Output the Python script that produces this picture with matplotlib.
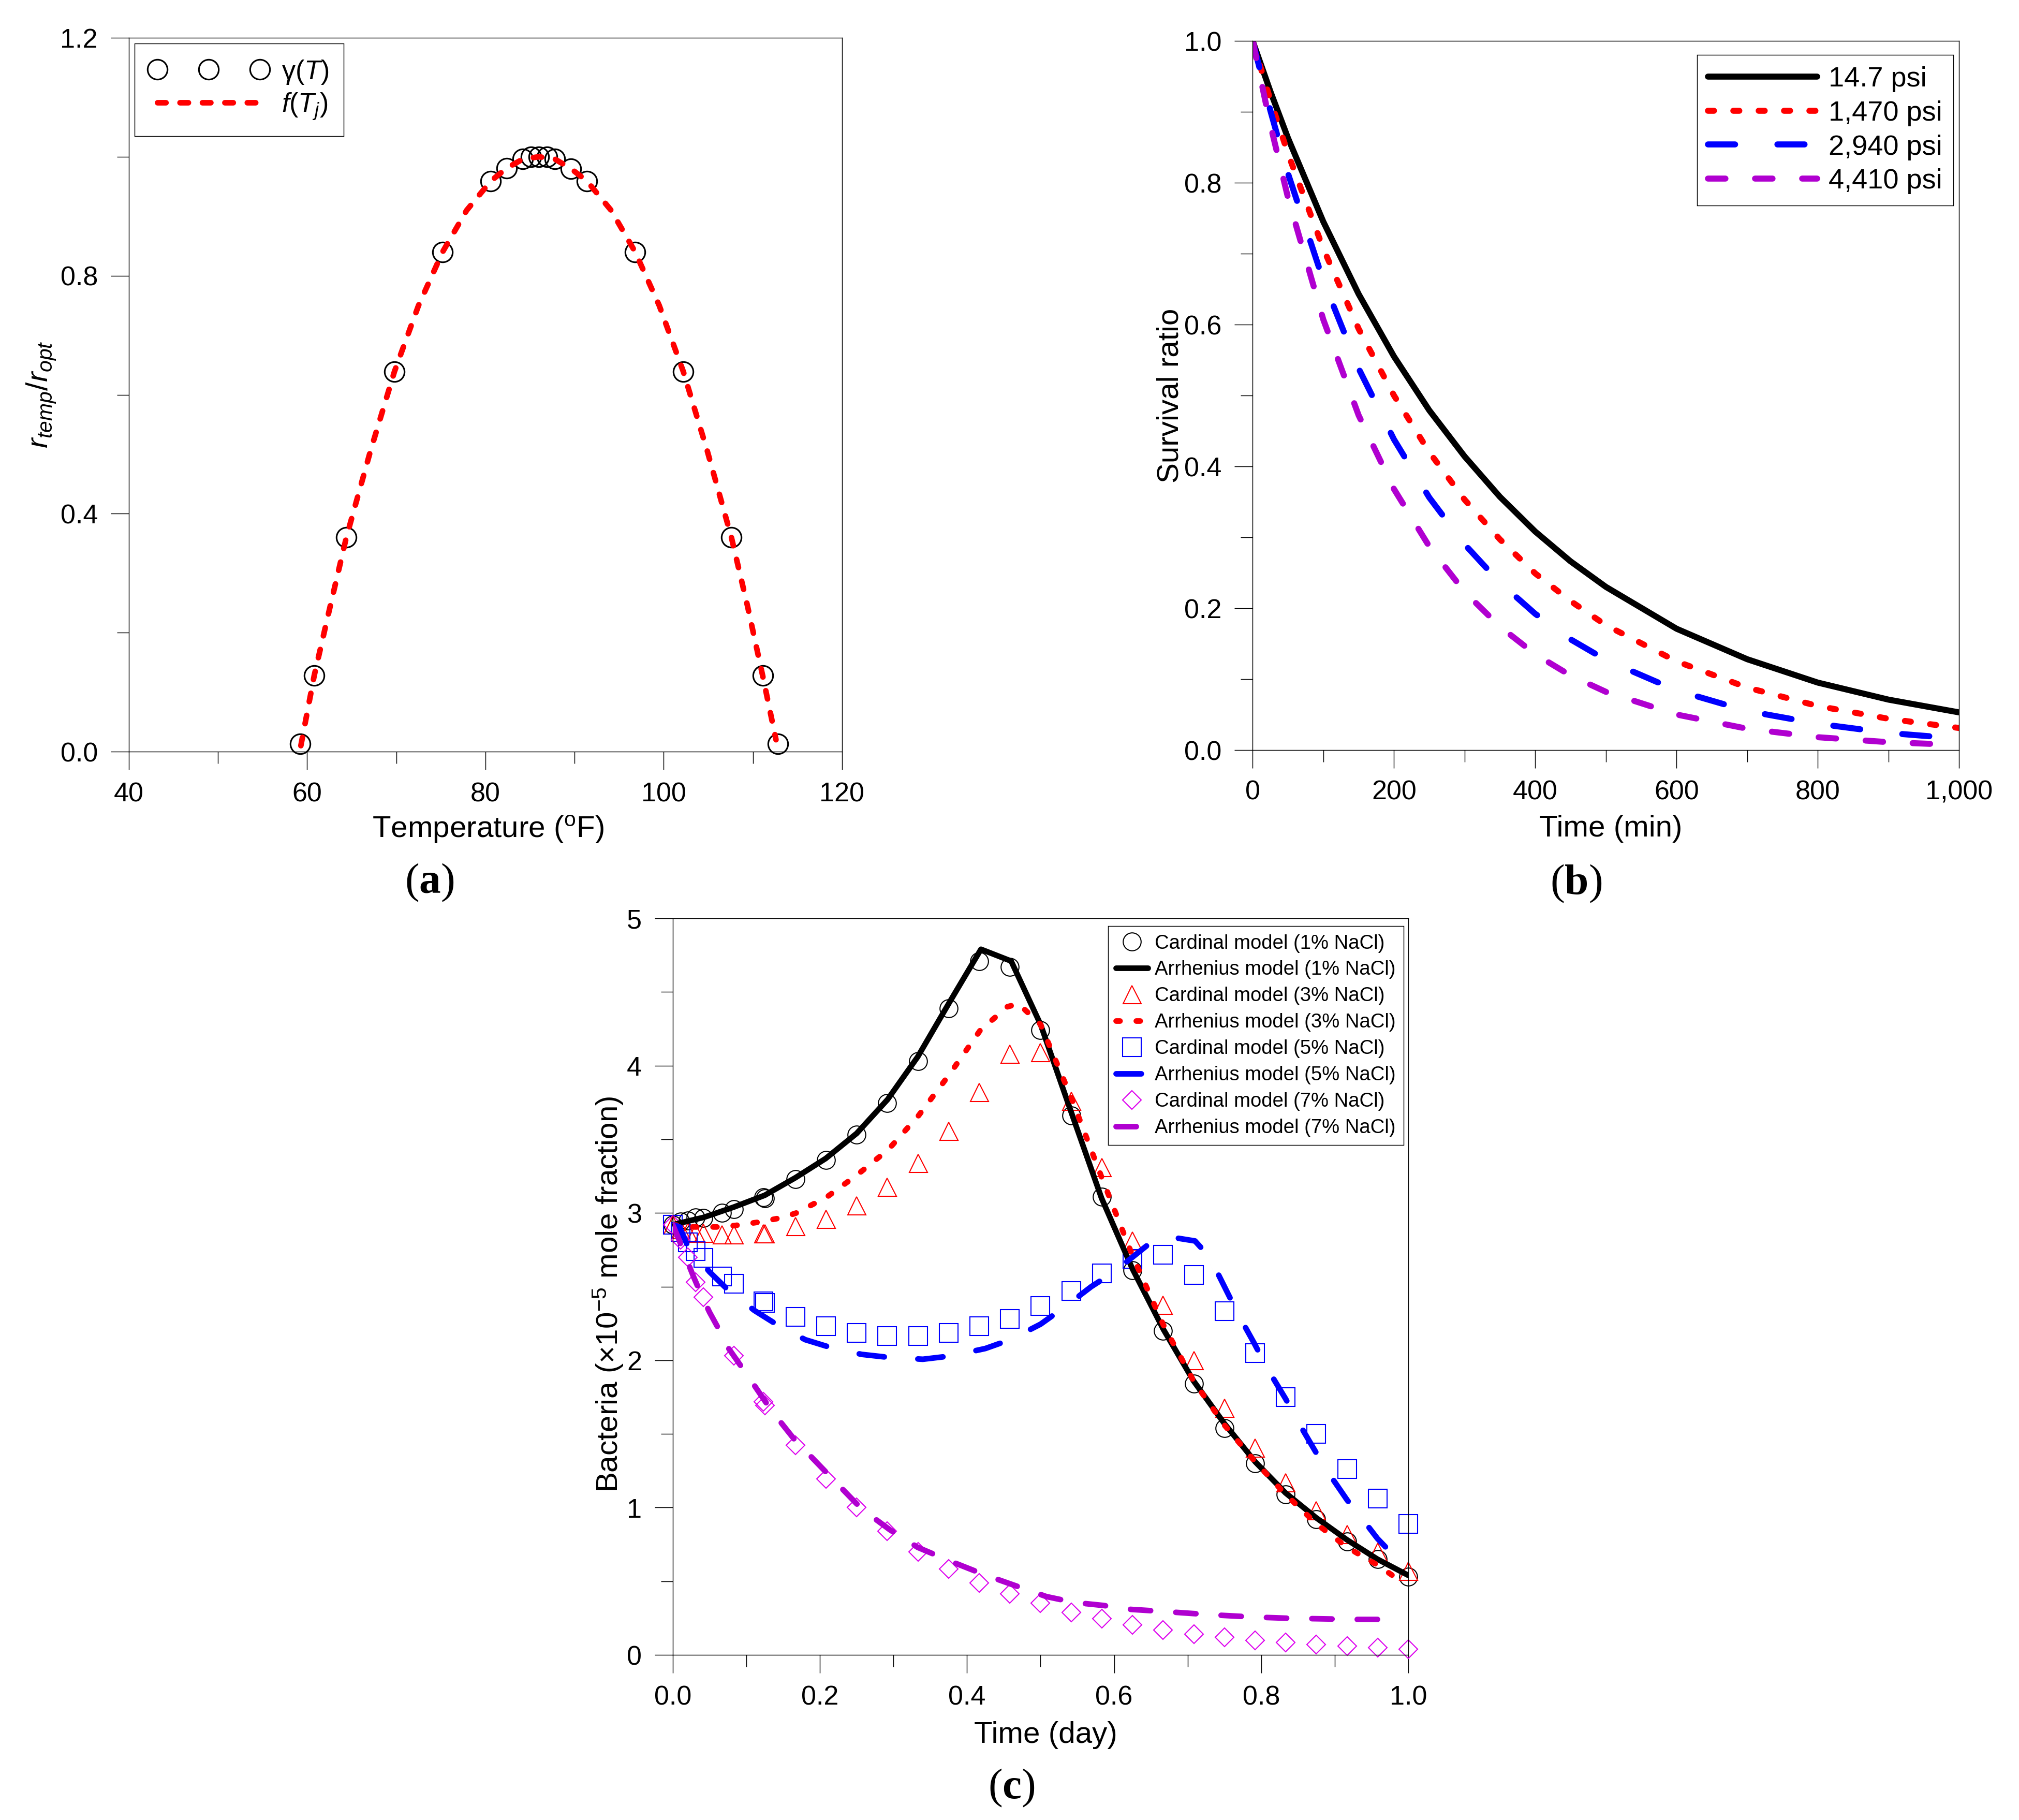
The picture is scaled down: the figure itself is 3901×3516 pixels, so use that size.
import matplotlib.pyplot as plt
from matplotlib.ticker import MultipleLocator, FormatStrFormatter, StrMethodFormatter

plt.rcParams['font.family'] = ['Liberation Sans', 'DejaVu Sans']
plt.rcParams['mathtext.fontset'] = 'custom'
plt.rcParams['mathtext.rm'] = 'Liberation Sans'
plt.rcParams['mathtext.it'] = 'Liberation Sans:italic'
plt.rcParams['mathtext.bf'] = 'Liberation Serif:bold'

# ---- (a) temperature response ----
temp_pts = [59.2, 60.8, 64.4, 69.8, 75.2, 80.6, 82.4, 84.2, 85.1, 86.0, 86.9, 87.8,
            89.6, 91.4, 96.8, 102.2, 107.6, 111.1, 112.8]
gamma_pts = [0.013, 0.128, 0.36, 0.639, 0.84, 0.959, 0.981, 0.996, 1.0, 1.0, 1.0, 0.996,
             0.98, 0.959, 0.84, 0.639, 0.36, 0.128, 0.013]
temp_fit = [59.3, 60.8, 62.6, 64.4, 67.1, 69.8, 72.5, 75.2, 77.9, 80.6, 82.4, 84.2, 86.0,
            87.8, 89.6, 91.4, 94.1, 96.8, 99.5, 102.2, 104.9, 107.6, 109.4, 111.1, 112.6]
f_fit = [0.01, 0.128, 0.245, 0.36, 0.505, 0.639, 0.75, 0.84, 0.91, 0.959, 0.981, 0.996, 1.0,
         0.996, 0.98, 0.959, 0.91, 0.84, 0.75, 0.639, 0.505, 0.36, 0.245, 0.128, 0.02]

# ---- (b) survival ratio vs time ----
t_min = [0, 25, 50, 100, 150, 200, 250, 300, 350, 400, 450, 500, 600, 700, 800, 900, 1000]
surv_147 = [1.0, 0.929, 0.863, 0.745, 0.643, 0.555, 0.479, 0.414, 0.357, 0.308, 0.266,
            0.230, 0.171, 0.128, 0.095, 0.071, 0.053]
surv_1470 = [1.0, 0.917, 0.841, 0.707, 0.594, 0.500, 0.420, 0.353, 0.297, 0.249, 0.210,
             0.176, 0.125, 0.088, 0.062, 0.044, 0.031]
surv_2940 = [1.0, 0.902, 0.813, 0.662, 0.538, 0.438, 0.356, 0.290, 0.236, 0.192, 0.156,
             0.127, 0.084, 0.055, 0.037, 0.024, 0.016]
surv_4410 = [1.0, 0.882, 0.779, 0.607, 0.472, 0.368, 0.287, 0.223, 0.174, 0.135, 0.105,
             0.082, 0.050, 0.030, 0.018, 0.011, 0.007]
psi_labels = ['14.7 psi', '1,470 psi', '2,940 psi', '4,410 psi']

# ---- (c) bacteria vs time ----
t_card = [0.0, 0.0104, 0.0208, 0.0313, 0.0417, 0.0667, 0.0833, 0.1229, 0.125, 0.1667,
          0.2083, 0.25, 0.2917, 0.3333, 0.375, 0.4167, 0.4583, 0.5, 0.5417, 0.5833, 0.625,
          0.6667, 0.7083, 0.75, 0.7917, 0.8333, 0.875, 0.9167, 0.9583, 1.0]
card_1 = [2.92, 2.94, 2.95, 2.97, 2.965, 3.0, 3.025, 3.105, 3.10, 3.23, 3.36, 3.53, 3.745,
          4.03, 4.39, 4.71, 4.67, 4.24, 3.66, 3.11, 2.61, 2.20, 1.84, 1.54, 1.30, 1.09,
          0.92, 0.77, 0.65, 0.53]
card_3 = [2.92, 2.89, 2.87, 2.865, 2.865, 2.853, 2.853, 2.86, 2.86, 2.91, 2.96, 3.05, 3.175,
          3.34, 3.555, 3.82, 4.08, 4.09, 3.76, 3.31, 2.81, 2.375, 2.0, 1.675, 1.405, 1.17,
          0.98, 0.82, 0.70, 0.57]
card_5 = [2.92, 2.87, 2.80, 2.74, 2.695, 2.57, 2.52, 2.40, 2.39, 2.296, 2.23, 2.185, 2.165,
          2.165, 2.185, 2.23, 2.28, 2.37, 2.47, 2.59, 2.69, 2.715, 2.58, 2.335, 2.05, 1.75,
          1.50, 1.26, 1.06, 0.89]
t_card7 = [0.0, 0.0104, 0.0208, 0.0313, 0.0417, 0.0833, 0.1229, 0.125, 0.1667, 0.2083, 0.25,
           0.2917, 0.3333, 0.375, 0.4167, 0.4583, 0.5, 0.5417, 0.5833, 0.625, 0.6667, 0.7083,
           0.75, 0.7917, 0.8333, 0.875, 0.9167, 0.9583, 1.0]
card_7 = [2.92, 2.82, 2.70, 2.53, 2.43, 2.03, 1.72, 1.695, 1.425, 1.195, 1.0, 0.84, 0.70,
          0.585, 0.49, 0.415, 0.35, 0.29, 0.245, 0.205, 0.17, 0.14, 0.12, 0.10, 0.083, 0.07,
          0.06, 0.05, 0.04]

t_arr1 = [0.0, 0.042, 0.083, 0.125, 0.167, 0.208, 0.25, 0.292, 0.333, 0.375, 0.419, 0.46,
          0.5, 0.542, 0.583, 0.625, 0.667, 0.708, 0.75, 0.792, 0.833, 0.875, 0.917, 0.958, 1.0]
arr_1 = [2.92, 2.97, 3.04, 3.12, 3.24, 3.37, 3.54, 3.77, 4.06, 4.42, 4.79, 4.71, 4.28, 3.68,
         3.10, 2.62, 2.21, 1.86, 1.57, 1.31, 1.10, 0.93, 0.78, 0.65, 0.54]
t_arr3 = [0.0, 0.03, 0.06, 0.085, 0.12, 0.15, 0.168, 0.21, 0.251, 0.293, 0.334, 0.376, 0.418,
          0.455, 0.47, 0.50, 0.542, 0.584, 0.625, 0.667, 0.708, 0.75, 0.792, 0.833, 0.875,
          0.917, 0.958, 0.99]
arr_3 = [2.92, 2.905, 2.905, 2.915, 2.94, 2.97, 3.0, 3.11, 3.26, 3.43, 3.66, 3.94, 4.24, 4.40,
         4.42, 4.28, 3.78, 3.23, 2.71, 2.24, 1.86, 1.56, 1.31, 1.09, 0.89, 0.73, 0.61, 0.50]
t_arr5 = [0.0, 0.009, 0.02, 0.05, 0.075, 0.111, 0.141, 0.18, 0.219, 0.257, 0.293, 0.34,
          0.379, 0.425, 0.459, 0.50, 0.531, 0.569, 0.6, 0.625, 0.65, 0.665, 0.685, 0.71, 0.73,
          0.75, 0.77, 0.79, 0.81, 0.833, 0.855, 0.875, 0.895, 0.917, 0.938, 0.958, 0.985]
arr_5 = [2.92, 2.906, 2.78, 2.60, 2.478, 2.338, 2.244, 2.14, 2.08, 2.04, 2.02, 2.007, 2.03,
         2.08, 2.14, 2.245, 2.355, 2.50, 2.60, 2.70, 2.80, 2.82, 2.83, 2.81, 2.70, 2.50, 2.30,
         2.12, 1.93, 1.74, 1.54, 1.37, 1.21, 1.05, 0.92, 0.79, 0.65]
t_arr7 = [0.0, 0.008, 0.020, 0.028, 0.041, 0.050, 0.066, 0.076, 0.104, 0.134, 0.165, 0.211,
          0.257, 0.295, 0.333, 0.379, 0.425, 0.463, 0.508, 0.546, 0.585, 0.623, 0.661, 0.707,
          0.745, 0.79, 0.836, 0.882, 0.928, 0.983]
arr_7 = [2.92, 2.824, 2.67, 2.57, 2.42, 2.326, 2.18, 2.08, 1.88, 1.66, 1.465, 1.227, 0.99,
         0.85, 0.73, 0.633, 0.542, 0.475, 0.396, 0.356, 0.336, 0.309, 0.297, 0.281, 0.269,
         0.257, 0.249, 0.245, 0.241, 0.241]

PURPLE = '#B000D0'
MAGENTA = '#DD00EE'

fig = plt.figure(figsize=(13.004, 11.7205), dpi=300)
ax_a = fig.add_axes([0.0638, 0.5870, 0.3532, 0.3922])
ax_b = fig.add_axes([0.6204, 0.5879, 0.3499, 0.3896])
ax_c = fig.add_axes([0.3332, 0.0907, 0.3643, 0.4047])


def style_axes(ax, xmaj, xmin, ymaj, ymin, xfmt, yfmt):
    for s in ax.spines.values():
        s.set_linewidth(0.35)
    ax.xaxis.set_major_locator(MultipleLocator(xmaj))
    ax.xaxis.set_minor_locator(MultipleLocator(xmin))
    ax.yaxis.set_major_locator(MultipleLocator(ymaj))
    ax.yaxis.set_minor_locator(MultipleLocator(ymin))
    ax.xaxis.set_major_formatter(xfmt)
    ax.yaxis.set_major_formatter(yfmt)
    ax.tick_params(which='both', direction='out', top=False, right=False,
                   width=0.35, labelsize=12.5)
    ax.tick_params(which='major', length=8.4)
    ax.tick_params(which='minor', length=5.5)
    ax.tick_params(axis='x', which='both', pad=5.5)
    ax.tick_params(axis='y', which='both', pad=6)


# Panel (a)
ax_a.plot(temp_pts, gamma_pts, ls='none', marker='o', ms=9.2, mfc='none', mec='black',
          mew=0.75, clip_on=False, label=r'$\mathrm{\gamma}$($T$)')
ax_a.plot(temp_fit, f_fit, color='red', lw=2.6, ls=(0, (1.5, 2.5)),
          dash_capstyle='round', label=r'$f$($T_j$)')
ax_a.set_xlim(40, 120)
ax_a.set_ylim(0, 1.2)
style_axes(ax_a, 20, 10, 0.4, 0.2, FormatStrFormatter('%d'), FormatStrFormatter('%.1f'))
ax_a.set_xlabel(r'Temperature ($^{\mathrm{o}}$F)', fontsize=14, va='center')
ax_a.xaxis.set_label_coords(0.504, -0.109)
ax_a.set_ylabel(r'$r_{temp}/r_{opt}$', fontsize=14, va='center')
ax_a.yaxis.set_label_coords(-0.123, 0.5)
leg = ax_a.legend(loc='upper left', bbox_to_anchor=(0.008, 0.992), borderaxespad=0,
                  numpoints=3, handlelength=4.4, handletextpad=0.5, labelspacing=0.2,
                  borderpad=0.55, fontsize=12.5, fancybox=False, edgecolor='black',
                  framealpha=1)
leg.get_frame().set_linewidth(0.35)

# Panel (b)
ax_b.plot(t_min, surv_147, color='black', lw=2.8, solid_capstyle='round', label=psi_labels[0])
ax_b.plot(t_min, surv_1470, color='red', lw=2.8, ls=(0, (1.0, 3.2)),
          dash_capstyle='round', label=psi_labels[1])
ax_b.plot(t_min, surv_2940, color='blue', lw=2.8, ls=(0, (4.5, 7.0)),
          dash_capstyle='round', label=psi_labels[2])
ax_b.plot(t_min, surv_4410, color=PURPLE, lw=2.8, ls=(0, (2.9, 4.9)),
          dash_capstyle='round', label=psi_labels[3])
ax_b.set_xlim(0, 1000)
ax_b.set_ylim(0, 1.0)
style_axes(ax_b, 200, 100, 0.2, 0.1, StrMethodFormatter('{x:,.0f}'),
           FormatStrFormatter('%.1f'))
ax_b.set_xlabel('Time (min)', fontsize=14, va='center')
ax_b.xaxis.set_label_coords(0.507, -0.111)
ax_b.set_ylabel('Survival ratio', fontsize=14, va='center')
ax_b.yaxis.set_label_coords(-0.116, 0.5)
leg = ax_b.legend(loc='upper right', bbox_to_anchor=(0.992, 0.980), borderaxespad=0,
                  handlelength=3.9, handletextpad=0.4, labelspacing=0.29, borderpad=0.4,
                  fontsize=13, fancybox=False, edgecolor='black', framealpha=1)
leg.get_frame().set_linewidth(0.35)

# Panel (c)
mk = dict(ls='none', mfc='none', mew=0.5, clip_on=False, zorder=2)
ln = dict(lw=2.6, dash_capstyle='round', solid_capstyle='round', zorder=3)
ax_c.plot(t_card, card_1, marker='o', ms=8.3, mec='black',
          label='Cardinal model (1% NaCl)', **mk)
ax_c.plot(t_arr1, arr_1, color='black', label='Arrhenius model (1% NaCl)', **ln)
ax_c.plot(t_card, card_3, marker='^', ms=8.4, mec='red',
          label='Cardinal model (3% NaCl)', **mk)
ax_c.plot(t_arr3, arr_3, color='red', ls=(0, (0.7, 2.9)),
          label='Arrhenius model (3% NaCl)', **ln)
ax_c.plot(t_card, card_5, marker='s', ms=8.8, mec='blue',
          label='Cardinal model (5% NaCl)', **mk)
ax_c.plot(t_arr5, arr_5, color='blue', ls=(0, (4.5, 6.0)),
          label='Arrhenius model (5% NaCl)', **ln)
ax_c.plot(t_card7, card_7, marker='D', ms=6.2, mec=MAGENTA,
          label='Cardinal model (7% NaCl)', **mk)
ax_c.plot(t_arr7, arr_7, color=PURPLE, ls=(0, (3.6, 4.5)),
          label='Arrhenius model (7% NaCl)', **ln)
ax_c.set_xlim(0, 1.0)
ax_c.set_ylim(0, 5)
style_axes(ax_c, 0.2, 0.1, 1, 0.5, FormatStrFormatter('%.1f'), FormatStrFormatter('%d'))
ax_c.set_xlabel('Time (day)', fontsize=14, va='center')
ax_c.xaxis.set_label_coords(0.507, -0.109)
ax_c.set_ylabel(r'Bacteria ($\times$10$^{-5}$ mole fraction)', fontsize=14, va='center')
ax_c.yaxis.set_label_coords(-0.088, 0.49)
leg = ax_c.legend(loc='upper right', bbox_to_anchor=(0.9937, 0.9895), borderaxespad=0,
                  numpoints=1, handlelength=1.6, handletextpad=0.35, labelspacing=0.39,
                  borderpad=0.4, fontsize=9.2, fancybox=False, edgecolor='black',
                  framealpha=1)
leg.get_frame().set_linewidth(0.35)

# panel letters
for x, y, letter in [(0.2128, 0.515, 'a'), (0.7806, 0.5145, 'b'), (0.501, 0.0176, 'c')]:
    fig.text(x, y, r'($\mathbf{%s}$)' % letter, family='Liberation Serif', fontsize=20,
             ha='center', va='center')

fig.savefig('out.png', dpi=300)
